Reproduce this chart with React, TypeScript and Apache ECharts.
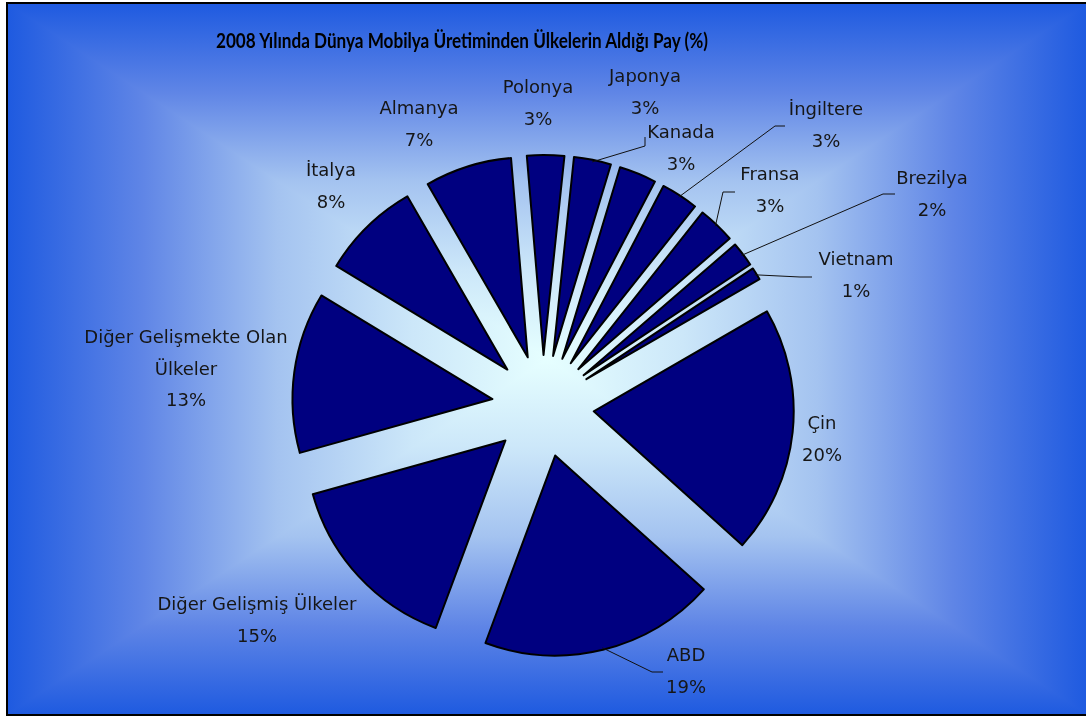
import { useEffect, useRef } from 'react';
import * as echarts from 'echarts';

// ---- data ----
const categories = [
  'Çin',
  'ABD',
  'Diğer Gelişmiş Ülkeler',
  'Diğer Gelişmekte Olan Ülkeler',
  'İtalya',
  'Almanya',
  'Polonya',
  'Japonya',
  'Kanada',
  'İngiltere',
  'Fransa',
  'Brezilya',
  'Vietnam',
];
const shares = [20, 19, 15, 13, 8, 7, 3, 3, 3, 3, 3, 2, 1];
const titleText = '2008 Yılında Dünya Mobilya Üretiminden Ülkelerin Aldığı Pay (%)';

// ---- layout / style ----
const W = 1086;
const H = 717;
const AREA = { x: 7, y: 3, w: 1081, h: 712 };
const PIE_CX = 543;
const PIE_CY = 406;
const PIE_R = 200;
const EXPLODE = 51;
const START_ANGLE = 30;
const GRAD_STOPS = [
  { offset: 0, color: '#1e5ae0' },
  { offset: 0.25, color: '#5f85e6' },
  { offset: 0.5, color: '#a4c3f0' },
  { offset: 0.75, color: '#cce7f9' },
  { offset: 1, color: '#e6ffff' },
];
const LABEL_FONT = 'DejaVu Sans';
const labelCenters = [
  [822, 438], [686, 670], [257, 619], [186, 368], [331, 185], [419, 123], [538, 102],
  [645, 91], [681, 147], [826, 124], [770, 189], [932, 193], [856, 274],
];
const leaderElbows: (number[][] | null)[] = [
  null, [[652, 672], [663, 672]], null, null, null, null, null,
  [[645, 146], [645, 137]], null, [[775, 126], [785, 126]], [[723, 192], [735, 192]],
  [[883, 194], [895, 194]], [[800, 277], [812, 277]],
];

const total = shares.reduce((a, b) => a + b, 0);
const midAngles: number[] = [];
{
  let acc = 0;
  shares.forEach((v) => {
    midAngles.push(START_ANGLE - ((acc + v / 2) / total) * 360);
    acc += v;
  });
}
function edgePoint(i: number) {
  const rad = (midAngles[i] * Math.PI) / 180;
  const ox = PIE_CX + Math.cos(rad) * EXPLODE;
  const oy = PIE_CY - Math.sin(rad) * EXPLODE;
  return [ox + Math.cos(rad) * (PIE_R - 2), oy - Math.sin(rad) * (PIE_R - 2)];
}
function wrapName(n: string) {
  if (n.length > 24) {
    const k = n.lastIndexOf(' ');
    return n.slice(0, k) + '\n' + n.slice(k + 1);
  }
  return n;
}

export default function App() {
  const ref = useRef<HTMLDivElement>(null);
  useEffect(() => {
    if (!ref.current) return;
    const chart = echarts.init(ref.current, null, { renderer: 'svg' });

    const ctx = document.createElement('canvas').getContext('2d')!;
    ctx.font = 'bold 21px Lato';
    const tw = ctx.measureText(titleText).width || 494;
    const titleScale = 494 / tw;

    const cx = AREA.x + AREA.w / 2;
    const cy = AREA.y + AREA.h / 2;
    const left = AREA.x;
    const right = AREA.x + AREA.w;
    const top = AREA.y;
    const bottom = AREA.y + AREA.h;
    const mirrored = [
      ...GRAD_STOPS.map((s) => ({ offset: s.offset / 2, color: s.color })),
      ...GRAD_STOPS.slice(0, -1).reverse().map((s) => ({ offset: 1 - s.offset / 2, color: s.color })),
    ];

    const labelGraphics: any[] = categories.map((name, i) => ({
      type: 'text',
      z: 20,
      x: labelCenters[i][0],
      y: labelCenters[i][1],
      silent: true,
      style: {
        text: `${wrapName(name)}\n${shares[i]}%`,
        fontFamily: LABEL_FONT,
        fontSize: 18,
        lineHeight: i === 3 ? 31.5 : 32,
        fill: '#161616',
        textAlign: 'center',
        textVerticalAlign: 'middle',
      },
    }));
    const lineGraphics: any[] = [];
    leaderElbows.forEach((el, i) => {
      if (!el) return;
      lineGraphics.push({
        type: 'polyline',
        z: 20,
        silent: true,
        shape: { points: [edgePoint(i), ...el] },
        style: { stroke: '#111', lineWidth: 1, fill: 'none' },
      });
    });

    chart.setOption({
      animation: false,
      graphic: [
        {
          type: 'rect',
          z: -10,
          silent: true,
          shape: { x: left, y: top, width: AREA.w, height: AREA.h },
          style: {
            fill: {
              type: 'linear', x: left, y: 0, x2: right, y2: 0, global: true,
              colorStops: mirrored,
            },
          },
        },
        {
          type: 'polygon',
          z: -9,
          silent: true,
          shape: { points: [[left, top], [right, top], [cx, cy]] },
          style: {
            fill: {
              type: 'linear', x: 0, y: top, x2: 0, y2: cy, global: true,
              colorStops: GRAD_STOPS,
            },
          },
        },
        {
          type: 'polygon',
          z: -9,
          silent: true,
          shape: { points: [[left, bottom], [right, bottom], [cx, cy]] },
          style: {
            fill: {
              type: 'linear', x: 0, y: bottom, x2: 0, y2: cy, global: true,
              colorStops: GRAD_STOPS,
            },
          },
        },
        {
          type: 'rect',
          z: -8,
          silent: true,
          shape: { x: left, y: top, width: AREA.w, height: AREA.h },
          style: { fill: 'none', stroke: '#000', lineWidth: 2 },
        },
        {
          type: 'text',
          z: 20,
          x: 462,
          y: 40,
          scaleX: titleScale,
          style: {
            text: titleText,
            fontFamily: 'Lato',
            fontWeight: 'bold',
            fontSize: 21,
            fill: '#000',
            textAlign: 'center',
            textVerticalAlign: 'middle',
          },
        },
        ...lineGraphics,
        ...labelGraphics,
      ],
      series: [
        {
          type: 'pie',
          center: [PIE_CX, PIE_CY],
          radius: PIE_R,
          startAngle: START_ANGLE,
          clockwise: true,
          selectedMode: 'multiple',
          selectedOffset: EXPLODE,
          avoidLabelOverlap: false,
          emphasis: { disabled: true },
          itemStyle: { color: '#000080', borderColor: '#000', borderWidth: 2 },
          label: { show: false },
          labelLine: { show: false },
          data: categories.map((name, i) => ({
            name,
            value: shares[i],
            selected: true,
          })),
        },
      ],
    });
    return () => chart.dispose();
  }, []);
  return (
    <div
      ref={ref}
      style={{ position: 'fixed', left: 0, top: 0, width: W, height: H }}
    />
  );
}
